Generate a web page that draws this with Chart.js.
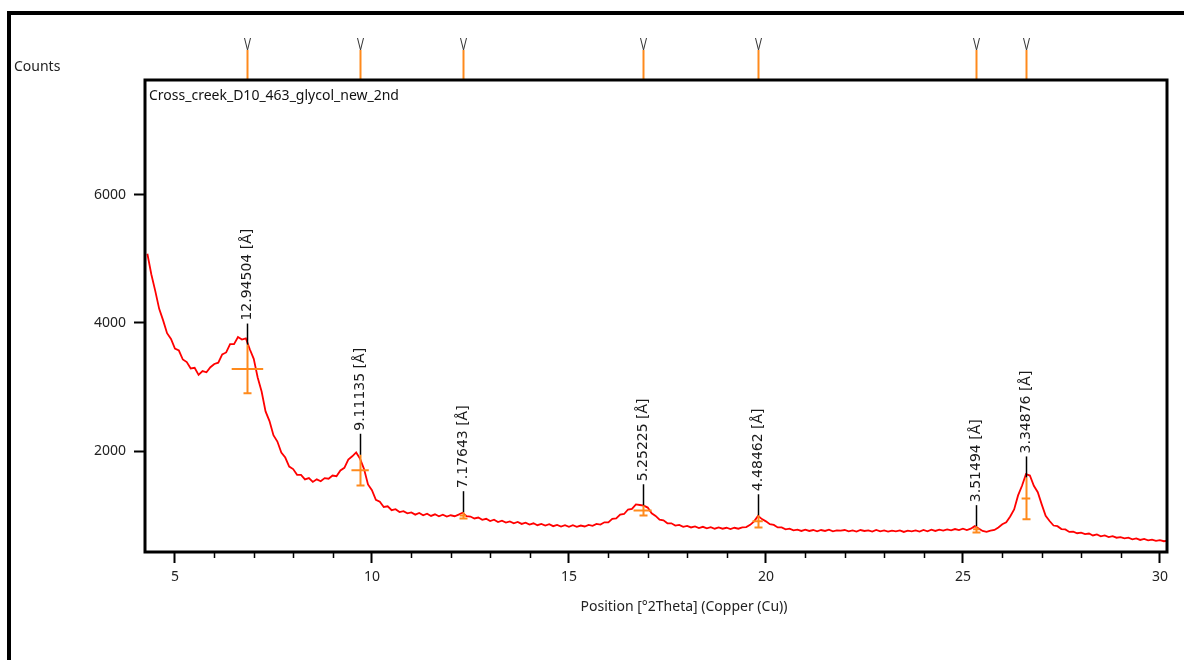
<!DOCTYPE html>
<html lang="en">
<head>
<meta charset="UTF-8">
<title>Cross_creek_D10_463_glycol_new_2nd</title>
<script src="https://cdn.jsdelivr.net/npm/chart.js@4"></script>
<style>
    html, body {
        margin: 0;
        padding: 0;
        background: #ffffff;
    }
    canvas {
        display: block;
    }
</style>
</head>
<body>
<canvas id="xrdChart" width="1184" height="660"></canvas>
<script>
// scan data (0.1 deg steps)
const scanTitle = 'Cross_creek_D10_463_glycol_new_2nd';
const scanStart = 4.3;
const scanStep = 0.1;
const counts = [
    5080, 4760, 4500, 4220, 4040, 3840, 3750,
    3600, 3570, 3430, 3390, 3290, 3300, 3190, 3250, 3230, 3310,
    3360, 3380, 3510, 3540, 3670, 3670, 3780, 3740, 3760, 3590,
    3440, 3150, 2930, 2620, 2470, 2250, 2150, 1980, 1900, 1760,
    1720, 1630, 1630, 1560, 1580, 1520, 1560, 1530, 1580, 1570,
    1620, 1610, 1700, 1740, 1870, 1920, 1980, 1880, 1720, 1480,
    1390, 1240, 1210, 1130, 1140, 1080, 1095, 1050, 1065, 1030,
    1045, 1010, 1035, 1000, 1025, 990, 1015, 985, 1010, 980,
    1000, 985, 1010, 1040, 985, 980, 950, 965, 930, 945,
    910, 930, 895, 915, 885, 905, 875, 895, 865, 885,
    855, 875, 845, 865, 840, 860, 830, 850, 825, 845,
    820, 845, 820, 840, 825, 850, 835, 865, 855, 890,
    890, 945, 950, 1010, 1020, 1090, 1100, 1170, 1160, 1150,
    1120, 1030, 990, 930, 920, 875, 875, 840, 850, 820,
    835, 810, 825, 800, 820, 795, 815, 790, 810, 790,
    805, 785, 805, 790, 810, 815, 850, 905, 990, 940,
    905, 860, 850, 810, 810, 780, 790, 765, 775, 755,
    775, 755, 770, 750, 770, 755, 775, 750, 765, 760,
    770, 750, 765, 745, 770, 755, 765, 745, 770, 750,
    765, 745, 760, 750, 765, 740, 760, 750, 765, 745,
    770, 750, 775, 755, 775, 760, 780, 765, 785, 770,
    790, 770, 790, 830, 795, 755, 740, 760, 770, 810,
    860, 890, 980, 1090, 1310, 1460, 1640, 1620, 1460, 1360,
    1170, 990, 910, 840, 830, 785, 780, 740, 745, 720,
    730, 705, 715, 685, 700, 670, 685, 660, 675, 650,
    660, 640, 650, 625, 640, 615, 630, 610, 620, 600,
    612, 595, 605
];

// peak list
const peakPos = [6.84, 9.70, 12.31, 16.87, 19.79, 25.34, 26.60];
const peakD = ['12.94504', '9.11135', '7.17643', '5.25225', '4.48462', '3.51494', '3.34876'];
const peakCounts = [3283, 1704, 998, 1076, 905, 780, 1263];
const peakErr = [380, 240, 50, 80, 95, 50, 327];
const peakHalfWidth = [0.40, 0.22, 0.08, 0.23, 0.13, 0.08, 0.11];

// axes
const xMin = 4.24, xMax = 30.18;
const yMin = 427, yMax = 7790;
const xLabelStep = 5;
const yTicks = [2000, 4000, 6000];

const points = counts.map((c, i) => ({ x: +(scanStart + i * scanStep).toFixed(2), y: c }));

const FONT = 'Noto Sans';
const ORANGE = '#ff8a1c';

const decorPlugin = {
    id: 'decor',
    beforeDraw(chart) {
        const ctx = chart.ctx;
        ctx.save();
        ctx.fillStyle = '#ffffff';
        ctx.fillRect(0, 0, chart.width, chart.height);
        // outer frame
        ctx.strokeStyle = '#000';
        ctx.lineWidth = 4;
        ctx.beginPath();
        ctx.moveTo(9, chart.height);
        ctx.lineTo(9, 13);
        ctx.lineTo(chart.width, 13);
        ctx.stroke();
        // y axis caption
        ctx.fillStyle = '#222';
        ctx.font = '14px "' + FONT + '"';
        ctx.textBaseline = 'middle';
        ctx.fillText('Counts', 14, 67);
        // x axis caption
        ctx.textAlign = 'center';
        ctx.fillText('Position [°2Theta] (Copper (Cu))', 684, 607);
        ctx.restore();
    },
    afterDatasetsDraw(chart) {
        const ctx = chart.ctx;
        const xs = chart.scales.x, ys = chart.scales.y, a = chart.chartArea;
        ctx.save();

        // minor ticks on x
        ctx.strokeStyle = '#000';
        ctx.lineWidth = 1.5;
        ctx.beginPath();
        xs.ticks.forEach(t => {
            if (t.value % xLabelStep !== 0) {
                const x = Math.round(xs.getPixelForValue(t.value)) + 0.5;
                ctx.moveTo(x, a.bottom);
                ctx.lineTo(x, a.bottom + 6);
            }
        });
        ctx.stroke();

        peakPos.forEach((p, i) => {
            const x = Math.round(xs.getPixelForValue(p)) + 0.5;
            const yc = ys.getPixelForValue(peakCounts[i]);
            const yt = ys.getPixelForValue(peakCounts[i] + peakErr[i]);
            const yb = ys.getPixelForValue(peakCounts[i] - peakErr[i]);
            const xl = xs.getPixelForValue(p - peakHalfWidth[i]);
            const xr = xs.getPixelForValue(p + peakHalfWidth[i]);

            // fitted profile cross
            ctx.strokeStyle = ORANGE;
            ctx.lineWidth = 2;
            ctx.beginPath();
            ctx.moveTo(xl, yc);
            ctx.lineTo(xr, yc);
            ctx.moveTo(x, yt);
            ctx.lineTo(x, yb);
            ctx.moveTo(x - 4, yb);
            ctx.lineTo(x + 4, yb);
            ctx.stroke();

            // leader line + d-spacing label
            ctx.strokeStyle = '#000';
            ctx.lineWidth = 1.5;
            ctx.beginPath();
            ctx.moveTo(x, yt);
            ctx.lineTo(x, yt - 21);
            ctx.stroke();

            ctx.save();
            ctx.translate(x, yt - 24);
            ctx.rotate(-Math.PI / 2);
            ctx.fillStyle = '#1a1a1a';
            ctx.font = '14px "DejaVu Sans"';
            ctx.textAlign = 'left';
            ctx.textBaseline = 'middle';
            ctx.fillText(peakD[i] + ' [Å]', 0, 0);
            ctx.restore();

            // reference marker above the plot
            ctx.strokeStyle = ORANGE;
            ctx.lineWidth = 2;
            ctx.beginPath();
            ctx.moveTo(x, a.top);
            ctx.lineTo(x, a.top - 30);
            ctx.stroke();
            ctx.strokeStyle = '#333';
            ctx.lineWidth = 1;
            ctx.beginPath();
            ctx.moveTo(x - 3, a.top - 42);
            ctx.lineTo(x, a.top - 30);
            ctx.lineTo(x + 3, a.top - 42);
            ctx.stroke();
        });

        // plot frame
        ctx.strokeStyle = '#000';
        ctx.lineWidth = 3;
        ctx.strokeRect(a.left, a.top, a.right - a.left, a.bottom - a.top);

        // scan name
        ctx.fillStyle = '#111';
        ctx.font = '14px "' + FONT + '"';
        ctx.textBaseline = 'middle';
        ctx.textAlign = 'left';
        ctx.fillText(scanTitle, a.left + 4, a.top + 16);
        ctx.restore();
    }
};

new Chart(document.getElementById('xrdChart').getContext('2d'), {
    type: 'line',
    data: {
        datasets: [{
            data: points,
            borderColor: '#ff0000',
            borderWidth: 1.8,
            pointRadius: 0,
            tension: 0,
            fill: false
        }]
    },
    options: {
        responsive: false,
        animation: false,
        devicePixelRatio: 1,
        layout: { padding: { top: 80, right: 17, bottom: 0, left: 0 } },
        plugins: {
            legend: { display: false },
            tooltip: { enabled: false }
        },
        scales: {
            x: {
                type: 'linear',
                min: xMin,
                max: xMax,
                afterFit: s => { s.height = 108; },
                border: { display: false },
                grid: {
                    display: true,
                    drawOnChartArea: false,
                    drawTicks: true,
                    tickLength: 11,
                    tickWidth: 2,
                    tickColor: c => (c.tick && c.tick.value % xLabelStep === 0) ? '#000' : 'rgba(0,0,0,0)'
                },
                ticks: {
                    stepSize: 1,
                    includeBounds: false,
                    autoSkip: false,
                    maxRotation: 0,
                    padding: 6,
                    color: '#222',
                    font: { family: FONT, size: 14 },
                    callback: v => (v % xLabelStep === 0 ? String(v) : '')
                }
            },
            y: {
                min: yMin,
                max: yMax,
                afterFit: s => { s.width = 145; },
                afterBuildTicks: s => { s.ticks = yTicks.map(v => ({ value: v })); },
                border: { display: false },
                grid: {
                    display: true,
                    drawOnChartArea: false,
                    drawTicks: true,
                    tickLength: 11,
                    tickWidth: 2,
                    tickColor: '#000'
                },
                ticks: {
                    autoSkip: false,
                    padding: 8,
                    color: '#222',
                    font: { family: FONT, size: 14 },
                    callback: v => String(v)
                }
            }
        }
    },
    plugins: [decorPlugin]
});
</script>
</body>
</html>
